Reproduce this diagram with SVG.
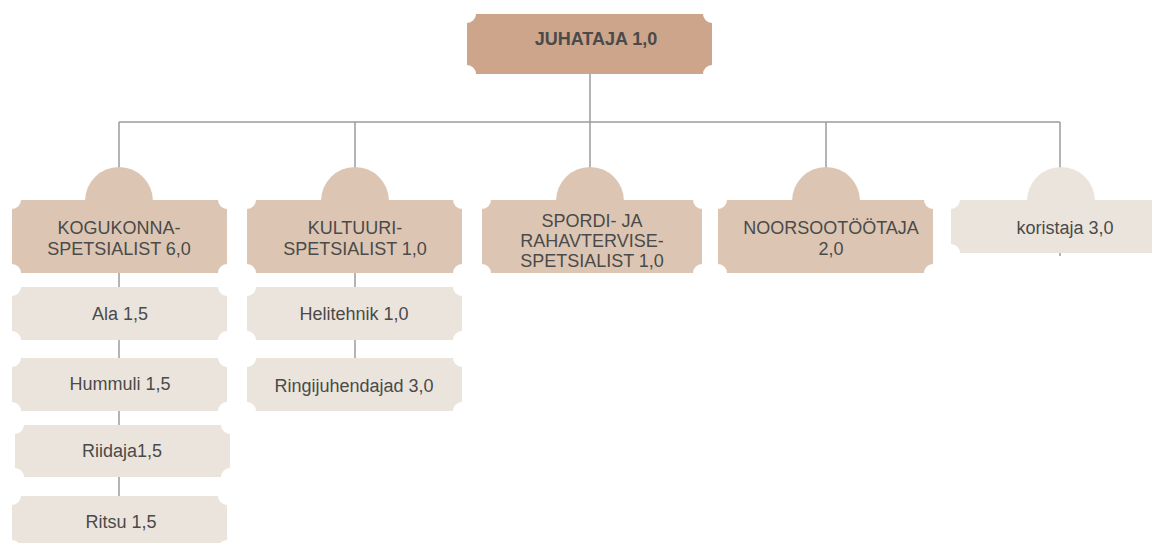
<svg xmlns="http://www.w3.org/2000/svg" width="1152" height="543" viewBox="0 0 1152 543">
<style>
.ln{stroke:#9c9c9c;stroke-width:1.5;fill:none}
.top{fill:#cca58b}
.mid{fill:#dcc6b3}
.low{fill:#ebe4dc}
text{font-family:"Liberation Sans",Arial,sans-serif;font-size:18px;fill:#4a4a4a;text-anchor:middle}
.b{font-weight:bold}
</style>
<rect width="1152" height="543" fill="#ffffff"/>
<g id="connectors">
<path class="ln" d="M590,74V122M119,122H1060M119,122V200M355,122V200M590,122V200M826,122V200M1060,122V200"/>
<path class="ln" d="M119,273V500M355,273V360M1060,240V256"/>
</g>
<g id="n-juhataja">
<path class="top" d="M476,14H703A9,9 0 0 0 712,23V65A9,9 0 0 0 703,74H476A9,9 0 0 0 467,65V23A9,9 0 0 0 476,14Z"/>
<text class="b" x="596" y="45">JUHATAJA 1,0</text>
</g>
<g id="n-kogukonna">
<circle class="mid" cx="119" cy="201" r="34"/>
<path class="mid" d="M21,200H218A9,9 0 0 0 227,209V264A9,9 0 0 0 218,273H21A9,9 0 0 0 12,264V209A9,9 0 0 0 21,200Z"/>
<text x="119" y="234">KOGUKONNA-</text>
<text x="119" y="255">SPETSIALIST 6,0</text>
</g>
<g id="n-kultuuri">
<circle class="mid" cx="355" cy="201" r="34"/>
<path class="mid" d="M256,200H453A9,9 0 0 0 462,209V264A9,9 0 0 0 453,273H256A9,9 0 0 0 247,264V209A9,9 0 0 0 256,200Z"/>
<text x="355" y="234">KULTUURI-</text>
<text x="355" y="255">SPETSIALIST 1,0</text>
</g>
<g id="n-spordi">
<circle class="mid" cx="590" cy="201" r="34"/>
<path class="mid" d="M491,200H693A9,9 0 0 0 702,209V264A9,9 0 0 0 693,273H491A9,9 0 0 0 482,264V209A9,9 0 0 0 491,200Z"/>
<text x="592" y="227">SPORDI- JA</text>
<text x="592" y="247">RAHAVTERVISE-</text>
<text x="592" y="267">SPETSIALIST 1,0</text>
</g>
<g id="n-noorsoo">
<circle class="mid" cx="826" cy="201" r="34"/>
<path class="mid" d="M727,200H924A9,9 0 0 0 933,209V264A9,9 0 0 0 924,273H727A9,9 0 0 0 718,264V209A9,9 0 0 0 727,200Z"/>
<text x="831" y="234">NOORSOOTÖÖTAJA</text>
<text x="831" y="255">2,0</text>
</g>
<g id="n-koristaja">
<circle class="low" cx="1061" cy="201" r="34"/>
<path class="low" d="M960,200H1157A9,9 0 0 0 1166,209V244A9,9 0 0 0 1157,253H960A9,9 0 0 0 951,244V209A9,9 0 0 0 960,200Z"/>
<text x="1065" y="234">koristaja 3,0</text>
</g>
<g id="n-ala">
<path class="low" d="M21,287H218A9,9 0 0 0 227,296V331A9,9 0 0 0 218,340H21A9,9 0 0 0 12,331V296A9,9 0 0 0 21,287Z"/>
<text x="120" y="320">Ala 1,5</text>
</g>
<g id="n-hummuli">
<path class="low" d="M21,358H218A9,9 0 0 0 227,367V402A9,9 0 0 0 218,411H21A9,9 0 0 0 12,402V367A9,9 0 0 0 21,358Z"/>
<text x="120" y="390">Hummuli 1,5</text>
</g>
<g id="n-riidaja">
<path class="low" d="M24,425H221A9,9 0 0 0 230,434V468A9,9 0 0 0 221,477H24A9,9 0 0 0 15,468V434A9,9 0 0 0 24,425Z"/>
<text x="122" y="457">Riidaja1,5</text>
</g>
<g id="n-ritsu">
<path class="low" d="M21,496H218A9,9 0 0 0 227,505V540A9,9 0 0 0 218,549H21A9,9 0 0 0 12,540V505A9,9 0 0 0 21,496Z"/>
<text x="121" y="528">Ritsu 1,5</text>
</g>
<g id="n-helitehnik">
<path class="low" d="M256,287H453A9,9 0 0 0 462,296V331A9,9 0 0 0 453,340H256A9,9 0 0 0 247,331V296A9,9 0 0 0 256,287Z"/>
<text x="354" y="320">Helitehnik 1,0</text>
</g>
<g id="n-ringijuhendajad">
<path class="low" d="M256,358H453A9,9 0 0 0 462,367V402A9,9 0 0 0 453,411H256A9,9 0 0 0 247,402V367A9,9 0 0 0 256,358Z"/>
<text x="354" y="392">Ringijuhendajad 3,0</text>
</g>
</svg>
